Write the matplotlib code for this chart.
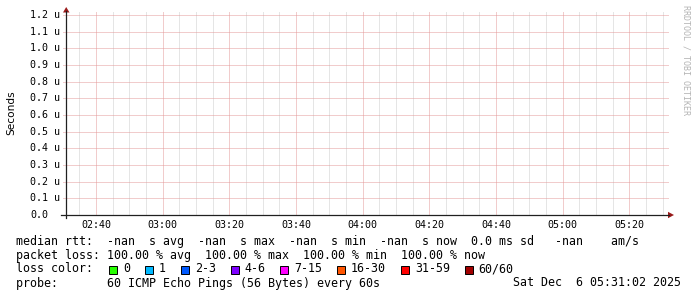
import numpy as np
import matplotlib
matplotlib.use("Agg")
import matplotlib.pyplot as plt
from matplotlib.patches import Rectangle, Polygon
from matplotlib.lines import Line2D

W, H = 697, 297
MONO = "DejaVu Sans Mono"

# time window in minutes after midnight (02:31 .. 05:31)
t_start, t_end = 151, 331
tick_labels = ["02:40", "03:00", "03:20", "03:40", "04:00", "04:20", "04:40", "05:00", "05:20"]
y_ticks = [0.0, 0.1, 0.2, 0.3, 0.4, 0.5, 0.6, 0.7, 0.8, 0.9, 1.0, 1.1, 1.2]   # microseconds
y_labels = ["0.0"] + ["%.1f u" % v for v in y_ticks[1:]]

# no replies during the window: every ping lost
median_rtt = []
loss_labels = ["0", "1", "2-3", "4-6", "7-15", "16-30", "31-59", "60/60"]
loss_colors = ["#26ff00", "#00b8ff", "#0059ff", "#7e00ff", "#ff00ff", "#ff5500", "#ff0000", "#a10000"]

line_rtt = "median rtt:  -nan  s avg  -nan  s max  -nan  s min  -nan  s now  0.0 ms sd   -nan    am/s"
line_loss = "packet loss: 100.00 % avg  100.00 % max  100.00 % min  100.00 % now"
line_probe = "probe:       60 ICMP Echo Pings (56 Bytes) every 60s"
stamp = "Sat Dec  6 05:31:02 2025"


def fx(x):
    return x / W


def fy(y):
    return 1 - y / H


plt.rcParams["lines.scale_dashes"] = False

fig = plt.figure(figsize=(W / 100, H / 100), dpi=100)
fig.patch.set_facecolor("white")

ax = fig.add_axes([fx(66), fy(215), 600 / W, 200 / H])
ax.set_xlim(t_start, t_end)
ax.set_ylim(0, 1.2)
ax.axis("off")

tick_pos = [int(s[:2]) * 60 + int(s[3:]) for s in tick_labels]

# 1 px dots, 1 px gaps
grid_kw = dict(lw=0.72, ls=(0, (0.72, 0.72)), clip_on=False, antialiased=True)
# minor vertical grid every 5 minutes, major every 20
for m in range(155, t_end + 1, 5):
    if m in tick_pos:
        continue
    ax.plot([m, m], [0, 1.215], color="#cccccc", **grid_kw)
for m in tick_pos:
    ax.plot([m, m], [0, 1.215], color="#e49a9a", **grid_kw)
for v in y_ticks[1:]:
    ax.plot([t_start - 0.9, t_end + 0.6], [v, v], color="#e49a9a", **grid_kw)

if median_rtt:
    ax.plot(np.arange(len(median_rtt)) + t_start, median_rtt, color="#26ff00")

# axes lines and arrows
fig.add_artist(Line2D([fx(61), fx(669)], [fy(215), fy(215)], color="#202020", lw=0.9))
fig.add_artist(Line2D([fx(66), fx(66)], [fy(218), fy(11)], color="#202020", lw=0.9))
fig.add_artist(Polygon([(fx(63), fy(12.5)), (fx(69.5), fy(12.5)), (fx(66.2), fy(7))],
                       closed=True, color="#9a1a1a", lw=0))
fig.add_artist(Polygon([(fx(668), fy(211.8)), (fx(668), fy(218.2)), (fx(674), fy(215))],
                       closed=True, color="#9a1a1a", lw=0))

# tick labels
for lab, m in zip(tick_labels, tick_pos):
    xp = 66 + (m - t_start) * 600 / (t_end - t_start)
    fig.text(fx(xp), fy(225), lab, family=MONO, fontsize=7.2, ha="center", va="center")
for lab, v in zip(y_labels, y_ticks):
    yp = 215 - v * 200 / 1.2
    fig.text(fx(30), fy(yp), lab, family=MONO, fontsize=7.2, ha="left", va="center")

fig.text(fx(11), fy(113), "Seconds", fontsize=7.6, rotation=90, ha="center", va="center")
fig.text(fx(686), fy(5), "RRDTOOL / TOBI OETIKER", family=MONO, fontsize=6.0,
         color="#b4b4b4", rotation=-90, ha="center", va="top")

# legend
fs = 8.35
cw = 6.96
fig.text(fx(16), fy(241), line_rtt, family=MONO, fontsize=fs, va="center")
fig.text(fx(16), fy(255), line_loss, family=MONO, fontsize=fs, va="center")
fig.text(fx(16), fy(269), "loss color:", family=MONO, fontsize=fs, va="center")
fig.text(fx(16), fy(283), line_probe, family=MONO, fontsize=fs, va="center")
fig.text(fx(681), fy(283), stamp, family=MONO, fontsize=fs, va="center", ha="right")

bx = 109
for lab, col in zip(loss_labels, loss_colors):
    fig.add_artist(Rectangle((fx(bx), fy(273.5)), 8 / W, 8 / H, facecolor=col,
                             edgecolor="black", lw=0.7))
    fig.text(fx(bx + 14), fy(269), lab, family=MONO, fontsize=fs, va="center")
    bx += 15 + cw * len(lab) + 2 * cw

fig.savefig("out.png", dpi=100, facecolor="white")
